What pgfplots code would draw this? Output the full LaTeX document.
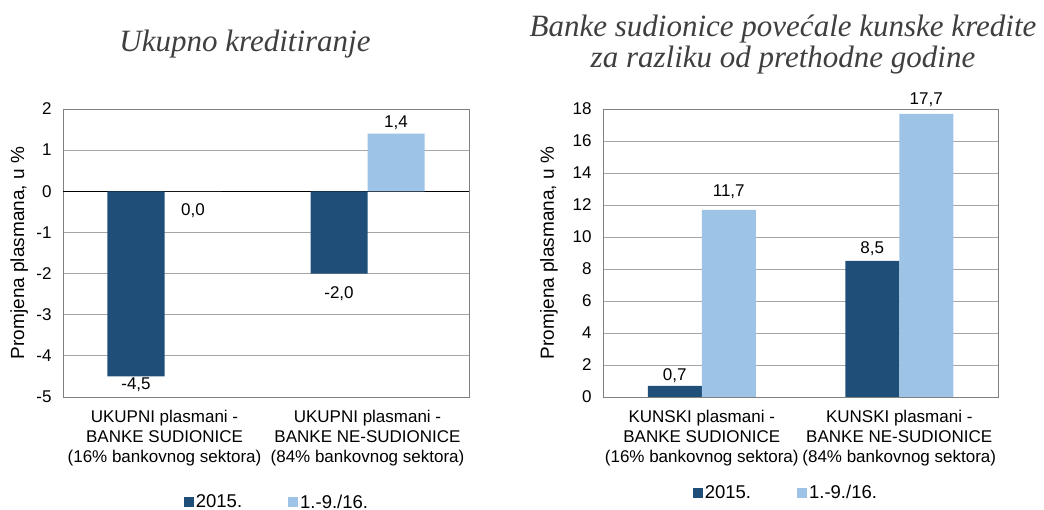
\documentclass[border=0pt]{standalone}
\usepackage{fontspec}
\setmainfont{Liberation Sans}
\newfontfamily\titlefont{Liberation Serif}
\usepackage{pgfplots}
\pgfplotsset{compat=1.18}
\usepackage{pgfplotstable}

\definecolor{dark}{HTML}{1F4E79}
\definecolor{light}{HTML}{9DC3E6}
\definecolor{gridc}{HTML}{A6A6A6}
\definecolor{framec}{HTML}{808080}
\definecolor{titlec}{HTML}{3F3F3F}

% values, label shift (pt)
\pgfplotstableread{
x y15 s15 y16 s16
0 -4.5 -8 0.0 -19
1 -2.0 -20 1.4 11
}\ukupno

\pgfplotstableread{
x y15 s15 y16 s16
0 0.7 10 11.7 18
1 8.5 12 17.7 14
}\kunski

\pgfplotsset{
  barchart/.style={
    scale only axis,
    height=288pt,
    ybar=0pt,
    xmin=-0.5, xmax=1.5,
    xtick={0,1},
    axis line style={framec},
    ymajorgrids,
    grid style={gridc, line width=0.9pt},
    tick style={draw=none},
    tick label style={font=\fontsize{17}{20}\selectfont},
    label style={font=\fontsize{19}{22}\selectfont},
    /pgf/number format/assume math mode=true,
    yticklabel style={xshift=-8pt},
    xticklabel style={align=center, yshift=-5pt, font=\fontsize{17}{20}\selectfont},
    nodes near coords={\pgfmathprintnumber[fixed,fixed zerofill,precision=1,use comma,assume math mode=true]{\pgfplotspointmeta}},
    every node near coord/.append style={anchor=center, yshift=\sh pt, font=\fontsize{17}{20}\selectfont, text=black},
    legend style={draw=none, fill=none, legend columns=2, font=\fontsize{18.5}{20}\selectfont,
      /tikz/every even column/.append style={column sep=44pt}},
    legend image code/.code={\fill[##1] (0pt,-5pt) rectangle (10pt,5pt);},
  }
}

\begin{document}
\begin{tikzpicture}
\useasboundingbox (0,0) rectangle (1044pt,510pt);

\node[anchor=base, text=titlec, font=\titlefont\itshape\fontsize{31}{34}\selectfont] at (245pt,458pt) {Ukupno kreditiranje};
\node[anchor=base, text=titlec, font=\titlefont\itshape\fontsize{31}{34}\selectfont] at (783pt,473pt) {Banke sudionice povećale kunske kredite};
\node[anchor=base, text=titlec, font=\titlefont\itshape\fontsize{31}{34}\selectfont] at (783pt,442pt) {za razliku od prethodne godine};

\begin{axis}[
  barchart,
  at={(63pt,113pt)}, anchor=south west,
  width=406pt,
  bar width=57pt,
  ymin=-5, ymax=2,
  ytick={-5,-4,...,2},
  xticklabels={{UKUPNI plasmani -\\BANKE SUDIONICE\\(16\% bankovnog sektora)},
               {UKUPNI plasmani -\\BANKE NE-SUDIONICE\\(84\% bankovnog sektora)}},
  ylabel={Promjena plasmana, u \%},
  ylabel style={at={(axis description cs:-0.108,0.5)}, anchor=center},
  extra y ticks={0},
  extra y tick labels={},
  extra y tick style={grid style={black, line width=1pt}},
  legend style={at={(0.527,-0.365)}, anchor=center},
]
\addplot[fill=dark, draw=none, visualization depends on={\thisrow{s15} \as \sh}] table[x=x, y=y15] {\ukupno};
\addlegendentry{2015.}
\addplot[fill=light, draw=none, visualization depends on={\thisrow{s16} \as \sh}] table[x=x, y=y16] {\ukupno};
\addlegendentry{1.-9./16.}
\end{axis}

\begin{axis}[
  barchart,
  at={(603pt,113pt)}, anchor=south west,
  width=395pt,
  bar width=54pt,
  ymin=0, ymax=18,
  ytick={0,2,...,18},
  xticklabels={{KUNSKI plasmani -\\BANKE SUDIONICE\\(16\% bankovnog sektora)},
               {KUNSKI plasmani -\\BANKE NE-SUDIONICE\\(84\% bankovnog sektora)}},
  ylabel={Promjena plasmana, u \%},
  ylabel style={at={(axis description cs:-0.137,0.5)}, anchor=center},
  legend style={at={(0.463,-0.333)}, anchor=center},
]
\addplot[fill=dark, draw=none, visualization depends on={\thisrow{s15} \as \sh}] table[x=x, y=y15] {\kunski};
\addlegendentry{2015.}
\addplot[fill=light, draw=none, visualization depends on={\thisrow{s16} \as \sh}] table[x=x, y=y16] {\kunski};
\addlegendentry{1.-9./16.}
\end{axis}
\end{tikzpicture}
\end{document}
